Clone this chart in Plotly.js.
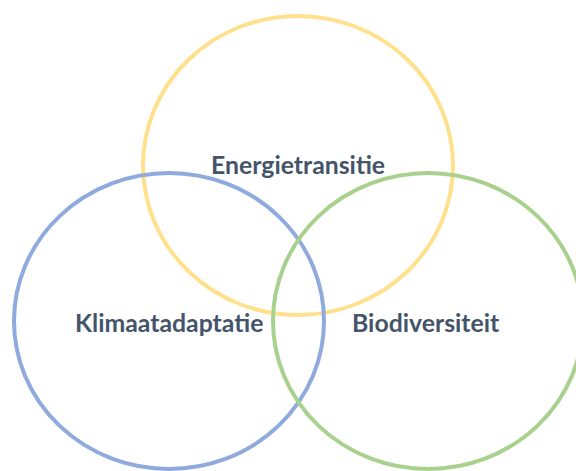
<!DOCTYPE html>
<html>
<head>
<meta charset="utf-8">
<script src="https://cdn.plot.ly/plotly-3.0.1.min.js"></script>
<style>html,body{margin:0;padding:0;background:#fff;}#chart{width:576px;height:471px;}</style>
</head>
<body>
<div id="chart"></div>
<script>
// Venn sets (labels, centres and radii in chart units)
const setNames = ["Energietransitie", "Klimaatadaptatie", "Biodiversiteit"];
const centerX = [298, 169, 428];
const centerY = [165.5, 321, 321];
const radiusX = [155, 155, 155];
const radiusY = [149.5, 148, 148];
const setColors = ["#FFE08C", "#8FAADC", "#A9D18E"];
const labelX = [297.5, 169, 426];
const labelY = [164, 322, 322];

const shapes = setNames.map((n, i) => ({
  type: "circle", xref: "x", yref: "y",
  x0: centerX[i] - radiusX[i], x1: centerX[i] + radiusX[i],
  y0: centerY[i] - radiusY[i], y1: centerY[i] + radiusY[i],
  line: {color: setColors[i], width: 4},
  fillcolor: "rgba(0,0,0,0)", layer: "above"
}));

const annotations = setNames.map((n, i) => ({
  x: labelX[i], y: labelY[i], xref: "x", yref: "y",
  text: "<b>" + n + "</b>", showarrow: false,
  xanchor: "center", yanchor: "middle",
  font: {family: "Lato, 'Open Sans', sans-serif", size: 24.8, color: "#44546A"}
}));

Plotly.newPlot("chart", [{x: [], y: [], type: "scatter", hoverinfo: "skip"}], {
  width: 576, height: 471,
  margin: {l: 0, r: 0, t: 0, b: 0},
  paper_bgcolor: "#ffffff", plot_bgcolor: "#ffffff",
  xaxis: {range: [0, 576], visible: false, fixedrange: true},
  yaxis: {range: [471, 0], visible: false, fixedrange: true},
  shapes: shapes, annotations: annotations, showlegend: false
}, {displayModeBar: false, staticPlot: true});
</script>
</body>
</html>
